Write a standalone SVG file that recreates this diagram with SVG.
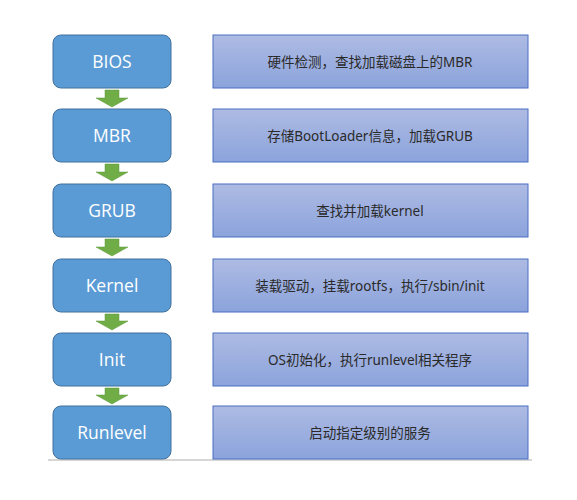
<svg xmlns="http://www.w3.org/2000/svg" width="577" height="500" viewBox="0 0 577 500">
<defs>
<linearGradient id="g" x1="0" y1="0" x2="0" y2="1">
<stop offset="0" stop-color="#aebbe3"/>
<stop offset="1" stop-color="#8ba3dc"/>
</linearGradient>
<style>
.n{fill:#5b9bd5;stroke:#41719c;stroke-width:1}
.d{fill:url(#g);stroke:#4a6fc0;stroke-width:1}
.t{font-family:"Open Sans","Noto Sans",sans-serif;font-size:17.5px;fill:#fff;text-anchor:middle}
.c{font-family:"Noto Sans","Noto Sans CJK SC",sans-serif;font-size:13.5px;fill:#2a2a2a;text-anchor:middle}
.a{fill:#70ad47;stroke:#5e9a3a;stroke-width:0.5}
</style>
</defs>
<rect width="577" height="500" fill="#fff"/>
<line x1="48" y1="460" x2="532" y2="460" stroke="#c8c8c8" stroke-width="1.5"/>
<g id="connectors">
<path class="a" d="M105,90 H119 V98 H128 L112,107 L96,98 H105 Z"/>
<path class="a" d="M105,164 H119 V172 H128 L112,181 L96,172 H105 Z"/>
<path class="a" d="M105,239 H119 V247 H128 L112,256 L96,247 H105 Z"/>
<path class="a" d="M105,314 H119 V321 H128 L112,330 L96,321 H105 Z"/>
<path class="a" d="M105,388 H119 V395 H128 L112,404 L96,395 H105 Z"/>
</g>
<g id="bios"><rect class="n" x="53" y="35" width="118" height="53" rx="8"/><text class="t" x="112" y="68">BIOS</text></g>
<g id="mbr"><rect class="n" x="53" y="109" width="118" height="53" rx="8"/><text class="t" x="112" y="142">MBR</text></g>
<g id="grub"><rect class="n" x="53" y="184" width="118" height="53" rx="8"/><text class="t" x="112" y="217">GRUB</text></g>
<g id="kernel"><rect class="n" x="53" y="259" width="118" height="53" rx="8"/><text class="t" x="112" y="292">Kernel</text></g>
<g id="init"><rect class="n" x="53" y="333" width="118" height="53" rx="8"/><text class="t" x="112" y="366">Init</text></g>
<g id="runlevel"><rect class="n" x="53" y="406" width="118" height="53" rx="8"/><text class="t" x="112" y="439">Runlevel</text></g>
<g id="d1"><rect class="d" x="213" y="35" width="315" height="53"/><text class="c" x="370" y="67">硬件检测，查找加载磁盘上的MBR</text></g>
<g id="d2"><rect class="d" x="213" y="109" width="315" height="53"/><text class="c" x="370" y="141">存储BootLoader信息，加载GRUB</text></g>
<g id="d3"><rect class="d" x="213" y="184" width="315" height="53"/><text class="c" x="370" y="216">查找并加载kernel</text></g>
<g id="d4"><rect class="d" x="213" y="259" width="315" height="53"/><text class="c" x="370" y="291">装载驱动，挂载rootfs，执行/sbin/init</text></g>
<g id="d5"><rect class="d" x="213" y="333" width="315" height="53"/><text class="c" x="370" y="365">OS初始化，执行runlevel相关程序</text></g>
<g id="d6"><rect class="d" x="213" y="406" width="315" height="53"/><text class="c" x="370" y="438">启动指定级别的服务</text></g>
</svg>
